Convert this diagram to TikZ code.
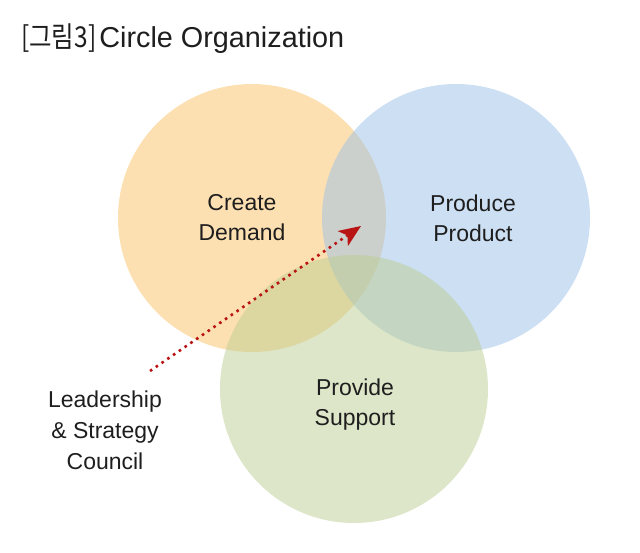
\documentclass[tikz,border=0pt]{standalone}
\usepackage{fontspec}
\setmainfont{Liberation Sans}
\newfontfamily\krfont[FakeStretch=0.85]{Noto Sans CJK KR}
\usetikzlibrary{arrows.meta}
\definecolor{corange}{RGB}{251,194,101}
\definecolor{cblue}{RGB}{155,191,230}
\definecolor{cgreen}{RGB}{187,205,145}
\definecolor{arrowred}{RGB}{185,20,20}
\definecolor{txt}{RGB}{30,30,30}
\begin{document}
\begin{tikzpicture}[x=1pt,y=-1pt,
  venn/.style={circle,minimum size=268pt,inner sep=0pt,fill opacity=0.5},
  lbl/.style={align=center,text=txt,font=\fontsize{23}{30}\selectfont,inner sep=0pt},
  ldr/.style={align=center,text=txt,font=\fontsize{23}{31}\selectfont,inner sep=0pt}]
\useasboundingbox (0,0) rectangle (640,553);
\node[venn,fill=corange] (dem) at (252,218) {};
\node[venn,fill=cblue] (prod) at (456,218) {};
\node[venn,fill=cgreen] (sup) at (354,389) {};
\node[lbl] (tdem) at (242,218) {Create\\Demand};
\node[lbl] (tprod) at (473,218) {Produce\\Product};
\node[lbl] (tsup) at (355,405) {Provide\\Support};
\node[ldr] (lead) at (105,430) {Leadership\\\&~Strategy\\Council};
\node[anchor=west,text=txt,inner sep=0pt,font=\fontsize{28.8}{30}\selectfont] (title) at (21,39) {{\krfont [그림3]}\kern3pt Circle Organization};
\coordinate (as) at (150,371);
\coordinate (ae) at (361,226);
\draw[arrowred,line width=2.6pt,dash pattern=on 2.6pt off 4.4pt,-{Stealth[length=22pt,width=18pt,inset=5.5pt]}] (as) -- (ae);
\end{tikzpicture}
\end{document}
